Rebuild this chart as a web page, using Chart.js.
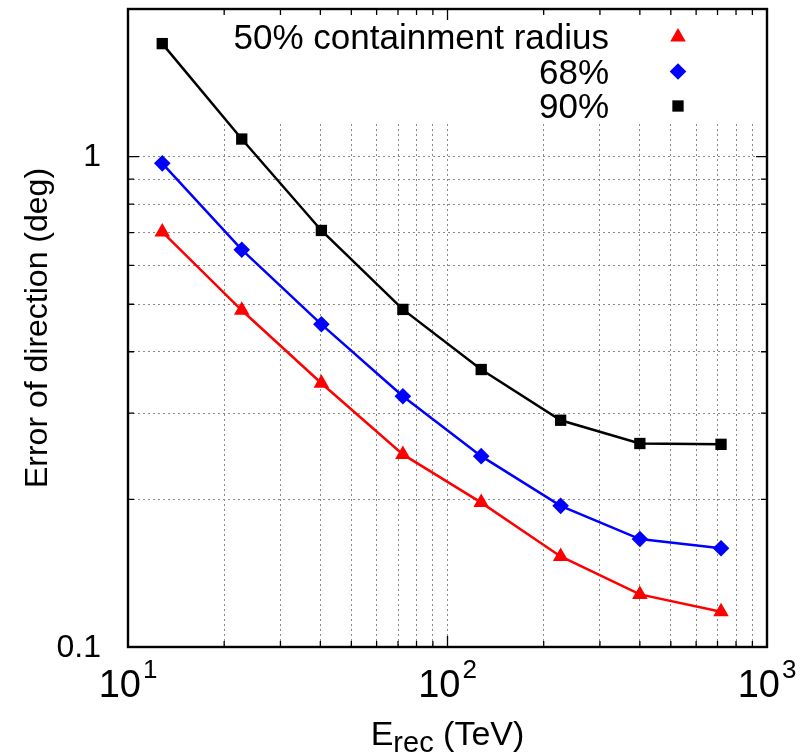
<!DOCTYPE html>
<html>
<head>
<meta charset="utf-8">
<script src="https://cdn.jsdelivr.net/npm/chart.js@4.4.1/dist/chart.umd.min.js"></script>
<style>
  html, body { margin: 0; padding: 0; background: #fff; }
  #wrap { width: 803px; height: 754px; }
</style>
</head>
<body>
<div id="wrap"><canvas id="psfChart" width="803" height="754"></canvas></div>
<script>
// Energies (TeV) and containment radii (deg)
const energy = [12.8, 22.7, 40.3, 72.5, 127.5, 226, 400, 718];
const radius50 = [0.702, 0.486, 0.345, 0.247, 0.197, 0.153, 0.128, 0.118];
const radius68 = [0.969, 0.646, 0.455, 0.3245, 0.245, 0.194, 0.166, 0.159];
const radius90 = [1.70, 1.086, 0.707, 0.488, 0.368, 0.290, 0.260, 0.259];

const seriesLabels = ['50% containment radius', '68%', '90%'];
const seriesColors = ['#ff0000', '#0000ff', '#000000'];
const seriesShapes = ['triangle', 'rectRot', 'rect'];
const seriesRadius = [9, 8.3, 8];

// gnuplot-style log tics (1..9 x 10^n)
const xTickValues = [10, 20, 30, 40, 50, 60, 70, 80, 90, 100, 200, 300, 400, 500, 600, 700, 800, 900, 1000];
const yTickValues = [0.1, 0.2, 0.3, 0.4, 0.5, 0.6, 0.7, 0.8, 0.9, 1, 2];

const xRange = [10, 1000];
const yRange = [0.1, 2];
const xTitle = ['E', 'rec', ' (TeV)'];
const yTitle = 'Error of direction (deg)';

const FONT = '"Liberation Sans", Arial, Helvetica, sans-serif';
const KEY_BOTTOM = 122;   // bottom edge of the opaque key box
const KEY_LEFT = 200;

function toPoints(ys) {
    return energy.map((e, i) => ({ x: e, y: ys[i] }));
}

function isDecade(v) {
    const l = Math.log10(v);
    return Math.abs(l - Math.round(l)) < 1e-9;
}

// petit helper pour dessiner les symboles de la légende
function drawSymbol(ctx, shape, x, y, r, color) {
    ctx.fillStyle = color;
    ctx.beginPath();
    if (shape === 'triangle') {
        ctx.moveTo(x, y - r);
        ctx.lineTo(x + r * 0.866, y + r / 2);
        ctx.lineTo(x - r * 0.866, y + r / 2);
    } else if (shape === 'rectRot') {
        ctx.moveTo(x, y - r);
        ctx.lineTo(x + r, y);
        ctx.lineTo(x, y + r);
        ctx.lineTo(x - r, y);
    } else {
        const s = r * Math.SQRT1_2;
        ctx.rect(x - s, y - s, 2 * s, 2 * s);
    }
    ctx.closePath();
    ctx.fill();
}

const gnuplotLook = {
    id: 'gnuplotLook',
    beforeDatasetsDraw(chart) {
        const { ctx, chartArea: a } = chart;
        ctx.save();
        ctx.fillStyle = '#ffffff';
        ctx.fillRect(KEY_LEFT, a.top + 1, a.right - 1 - KEY_LEFT, KEY_BOTTOM - a.top - 1);
        ctx.restore();
    },
    afterDatasetsDraw(chart) {
        const { ctx, chartArea: a, scales } = chart;
        const xs = scales.x, ys = scales.y;
        ctx.save();

        // ticks (inward, all four sides)
        ctx.strokeStyle = '#000';
        ctx.lineWidth = 1.3;
        ctx.beginPath();
        xs.ticks.forEach(t => {
            const px = xs.getPixelForValue(t.value);
            const len = isDecade(t.value) ? 11 : 6;
            ctx.moveTo(px, a.bottom); ctx.lineTo(px, a.bottom - len);
            ctx.moveTo(px, a.top); ctx.lineTo(px, a.top + len);
        });
        ys.ticks.forEach(t => {
            const py = ys.getPixelForValue(t.value);
            const len = isDecade(t.value) ? 11 : 6;
            ctx.moveTo(a.left, py); ctx.lineTo(a.left + len, py);
            ctx.moveTo(a.right, py); ctx.lineTo(a.right - len, py);
        });
        ctx.stroke();

        // frame
        ctx.lineWidth = 2.4;
        ctx.strokeRect(a.left, a.top, a.right - a.left, a.bottom - a.top);

        // tick labels
        ctx.fillStyle = '#000';
        ctx.textBaseline = 'alphabetic';
        ctx.textAlign = 'left';
        xs.ticks.filter(t => isDecade(t.value)).forEach(t => {
            const px = xs.getPixelForValue(t.value);
            const exp = String(Math.round(Math.log10(t.value)));
            ctx.font = '38px ' + FONT;
            const wBase = ctx.measureText('10').width;
            ctx.font = '26px ' + FONT;
            const wExp = ctx.measureText(exp).width;
            const x0 = px - (wBase + wExp + 2) / 2;
            ctx.font = '38px ' + FONT;
            ctx.fillText('10', x0, a.bottom + 50);
            ctx.font = '26px ' + FONT;
            ctx.fillText(exp, x0 + wBase + 2, a.bottom + 31);
        });
        ctx.font = '32px ' + FONT;
        ctx.textAlign = 'right';
        ctx.textBaseline = 'middle';
        ys.ticks.filter(t => isDecade(t.value)).forEach(t => {
            const py = ys.getPixelForValue(t.value);
            ctx.fillText(String(t.value), a.left - 27, py + 1);
        });

        // axis titles
        ctx.save();
        ctx.translate(38, (a.top + a.bottom) / 2);
        ctx.rotate(-Math.PI / 2);
        ctx.textAlign = 'center';
        ctx.textBaseline = 'middle';
        ctx.font = '32px ' + FONT;
        ctx.fillText(yTitle, 0, 0);
        ctx.restore();

        ctx.textAlign = 'left';
        ctx.textBaseline = 'alphabetic';
        ctx.font = '34px ' + FONT;
        const wE = ctx.measureText(xTitle[0]).width;
        const wUnit = ctx.measureText(xTitle[2]).width;
        ctx.font = '29px ' + FONT;
        const wSub = ctx.measureText(xTitle[1]).width;
        let tx = (a.left + a.right) / 2 - (wE + wSub + wUnit) / 2;
        const baseY = a.bottom + 98;
        ctx.font = '34px ' + FONT;
        ctx.fillText(xTitle[0], tx, baseY);
        ctx.font = '29px ' + FONT;
        ctx.fillText(xTitle[1], tx + wE, baseY + 7);
        ctx.font = '34px ' + FONT;
        ctx.fillText(xTitle[2], tx + wE + wSub, baseY);

        // key
        ctx.font = '35px ' + FONT;
        ctx.textAlign = 'right';
        const rowBase = [49, 83.5, 118];
        seriesLabels.forEach((lab, i) => {
            ctx.fillStyle = '#000';
            ctx.fillText(lab, 609, rowBase[i]);
            drawSymbol(ctx, seriesShapes[i], 678, rowBase[i] - 12, seriesRadius[i], seriesColors[i]);
        });

        ctx.restore();
    }
};

const datasets = [radius50, radius68, radius90].map((ys, i) => ({
    label: seriesLabels[i],
    data: toPoints(ys),
    borderColor: seriesColors[i],
    backgroundColor: seriesColors[i],
    borderWidth: 2.5,
    pointStyle: seriesShapes[i],
    pointRadius: seriesRadius[i],
    pointBorderWidth: 0,
    tension: 0,
    showLine: true
}));

const ctx = document.getElementById('psfChart').getContext('2d');
new Chart(ctx, {
    type: 'scatter',
    data: { datasets: datasets },
    options: {
        responsive: false,
        animation: false,
        layout: { padding: { left: 128, top: 7, right: 36, bottom: 107 } },
        plugins: { legend: { display: false }, tooltip: { enabled: false } },
        scales: {
            x: {
                type: 'logarithmic',
                min: xRange[0],
                max: xRange[1],
                ticks: { display: false, autoSkip: false },
                grid: { color: '#8a8a8a', lineWidth: 1, drawTicks: false },
                border: { display: false, dash: [2, 3] },
                afterBuildTicks: s => { s.ticks = xTickValues.map(v => ({ value: v })); },
                afterFit: s => { s.height = 0; }
            },
            y: {
                type: 'logarithmic',
                min: yRange[0],
                max: yRange[1],
                ticks: { display: false, autoSkip: false },
                grid: { color: '#8a8a8a', lineWidth: 1, drawTicks: false },
                border: { display: false, dash: [2, 3] },
                afterBuildTicks: s => { s.ticks = yTickValues.map(v => ({ value: v })); },
                afterFit: s => { s.width = 0; }
            }
        }
    },
    plugins: [gnuplotLook]
});
</script>
</body>
</html>
